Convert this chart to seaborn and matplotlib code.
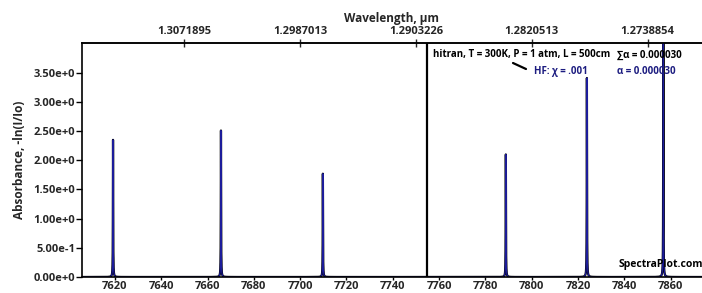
import numpy as np
import pandas as pd
from matplotlib import pyplot as plt
import seaborn as sns

# HF absorption lines (wavenumber cm-1, peak absorbance)
line_centers = [7619.2, 7665.8, 7709.8, 7788.8, 7823.8, 7856.8]
line_peaks = [2.35, 2.51, 1.77, 2.10, 3.41, 4.10]
line_hwhm = 0.07

cursor_x = 7754.8

x_ticks = [7620, 7640, 7660, 7680, 7700, 7720, 7740, 7760, 7780, 7800, 7820, 7840, 7860]
y_ticks = [0.0, 0.5, 1.0, 1.5, 2.0, 2.5, 3.0, 3.5]
y_labels = ['0.00e+0', '5.00e-1', '1.00e+0', '1.50e+0', '2.00e+0', '2.50e+0', '3.00e+0', '3.50e+0']
wl_ticks = [1.3071895, 1.2987013, 1.2903226, 1.2820513, 1.2738854]
wl_labels = ['1.3071895', '1.2987013', '1.2903226', '1.2820513', '1.2738854']

x_min, x_max = 7605.8, 7873.5

# build the spectrum from the line list (lorentzian shape)
nu = np.arange(x_min, x_max, 0.005)
absorb = np.zeros_like(nu)
for c, h in zip(line_centers, line_peaks):
    absorb += h * line_hwhm**2 / ((nu - c)**2 + line_hwhm**2)
spec = pd.DataFrame({'nu': nu, 'abs': absorb})

sns.set_style('white')
plt.rcParams['font.family'] = ['Open Sans', 'DejaVu Sans']
plt.rcParams['font.weight'] = 'bold'
plt.rcParams['axes.labelweight'] = 'bold'

fig = plt.figure(figsize=(7.02, 2.93), dpi=100)
ax = fig.add_axes([82/702, 16/293, 620/702, 234/293])

sns.lineplot(data=spec, x='nu', y='abs', ax=ax, color='black', lw=1.6,
             estimator=None, sort=False)
sns.lineplot(data=spec, x='nu', y='abs', ax=ax, color='#1c1c9a', lw=0.9,
             estimator=None, sort=False)
ax.axvline(cursor_x, color='black', lw=1.6)

ax.set_xlim(x_min, x_max)
ax.set_ylim(0, 4.01)
ax.set_xticks(x_ticks)
ax.set_xticklabels([str(t) for t in x_ticks], fontsize=8)
ax.set_yticks(y_ticks)
ax.set_yticklabels(y_labels, fontsize=8)
ax.set_xlabel('')
ax.set_ylabel('Absorbance, -ln(I/Io)', fontsize=8.5, fontweight='bold', labelpad=5)
ax.tick_params(axis='y', direction='out', length=4, width=1, color='black', left=True, pad=1)
ax.tick_params(axis='x', direction='out', length=2.5, width=1, color='black', bottom=True, pad=0.5)

for s in ['left', 'top', 'bottom']:
    ax.spines[s].set_color('black')
    ax.spines[s].set_linewidth(1.2)
ax.spines['right'].set_visible(False)

top = ax.secondary_xaxis('top', functions=(lambda x: 1e4 / x, lambda x: 1e4 / x))
top.set_xticks(wl_ticks)
top.set_xticklabels(wl_labels, fontsize=8)
top.tick_params(direction='inout', length=6, width=1, pad=1)
top.spines['top'].set_linewidth(1.2)
top.set_xlabel('Wavelength, µm', fontsize=8.5, fontweight='bold', labelpad=3)

# legend block
ax.text(433/702, 1 - 55/293, 'hitran, T = 300K, P = 1 atm, L = 500cm', transform=fig.transFigure,
        fontsize=7, va='center', ha='left', color='black')
ax.text(617/702, 1 - 55/293, '∑α = 0.000030', transform=fig.transFigure,
        fontsize=7, va='center', ha='left', color='black')
ax.plot([513/702, 526/702], [1 - 63/293, 1 - 69/293], transform=fig.transFigure,
        color='black', lw=1.6)
ax.text(534/702, 1 - 71/293, 'HF: χ = .001', transform=fig.transFigure,
        fontsize=7, va='center', ha='left', color='#1c1c80')
ax.text(617/702, 1 - 71/293, 'α = 0.000030', transform=fig.transFigure,
        fontsize=7, va='center', ha='left', color='#1c1c80')
ax.text(619/702, 1 - 264/293, 'SpectraPlot.com', transform=fig.transFigure,
        fontsize=7.5, va='center', ha='left', color='black')

fig.savefig('out.png', dpi=100)
